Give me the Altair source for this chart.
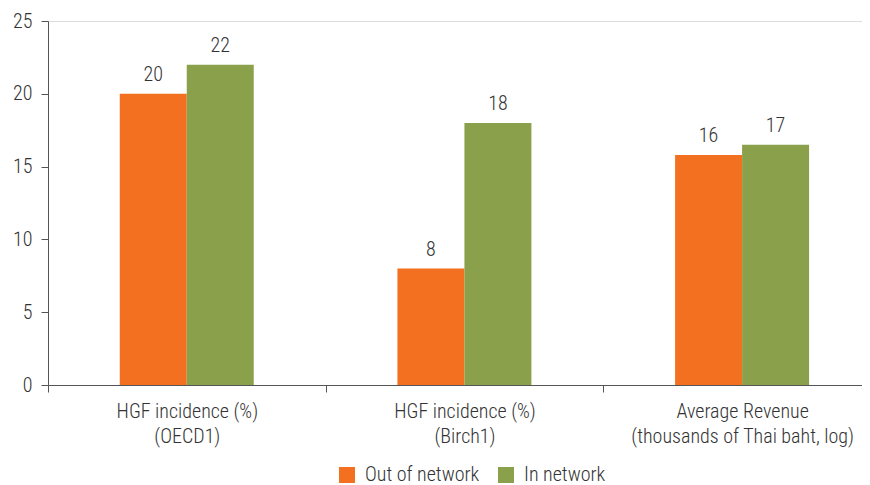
import altair as alt
import pandas as pd

groups = ["HGF incidence (%)\n(OECD1)", "HGF incidence (%)\n(Birch1)",
          "Average Revenue\n(thousands of Thai baht, log)"]
series = ["Out of network", "In network"]
out_values = [20, 8, 15.8]
in_values = [22, 18, 16.5]
colors = ["#F37021", "#8BA04A"]

rows = []
for g, o, i in zip(groups, out_values, in_values):
    rows.append({"group": g, "series": series[0], "value": o})
    rows.append({"group": g, "series": series[1], "value": i})
df = pd.DataFrame(rows)

FONT = "Roboto Condensed, Liberation Sans Narrow, DejaVu Sans Condensed, sans-serif"
TXT = "#333333"
FS = 20
FW = 300

x = alt.X("group:N", sort=groups, title=None,
          scale=alt.Scale(paddingInner=0, paddingOuter=0, range=[0, 833]),
          axis=alt.Axis(labelAngle=0, labelExpr="split(datum.label, '\\n')",
                        tickBand="extent", tickSize=7, labelPadding=9,
                        labelFontSize=FS, labelFontWeight=FW, labelLineHeight=25,
                        labelColor=TXT, labelFont=FONT, domainColor="#555555",
                        tickColor="#555555", labelLimit=400))
xo = alt.XOffset("series:N", sort=series,
                 scale=alt.Scale(paddingInner=0, paddingOuter=0, range=[71.75, 205.75]))
y = alt.Y("value:Q", title=None,
          scale=alt.Scale(domain=[0, 25], nice=False),
          axis=alt.Axis(values=[0, 5, 10, 15, 20, 25], grid=False, tickSize=7,
                        labelPadding=9, labelFontSize=FS, labelFontWeight=FW,
                        labelColor=TXT, labelFont=FONT, domainColor="#555555",
                        tickColor="#555555"))
color = alt.Color("series:N", sort=series,
                  scale=alt.Scale(domain=series, range=colors),
                  legend=alt.Legend(title=None, orient="none", direction="horizontal",
                                    legendX=289, legendY=444, symbolType="square",
                                    symbolSize=256, symbolStrokeWidth=0,
                                    symbolOpacity=1,
                                    labelFontSize=FS, labelFontWeight=FW,
                                    labelFont=FONT, labelColor=TXT,
                                    labelOffset=8, columnPadding=16))

base = alt.Chart(df).encode(x=x, xOffset=xo)
bars = base.mark_bar(opacity=1).encode(y=y, color=color)
labels = base.mark_text(dy=-19, fontSize=FS, fontWeight=FW, font=FONT,
                        color=TXT).encode(
    y=alt.Y("value:Q"), text=alt.Text("value:Q", format=".0f"))

chart = alt.layer(bars, labels).properties(
    width=814, height=364,
    autosize=alt.AutoSizeParams(type="none"),
    padding={"left": 40, "top": 13, "right": 0, "bottom": 110},
).configure_view(stroke=None).configure(background="white")

chart.save("out.html", embed_options={"renderer": "svg", "actions": False})
